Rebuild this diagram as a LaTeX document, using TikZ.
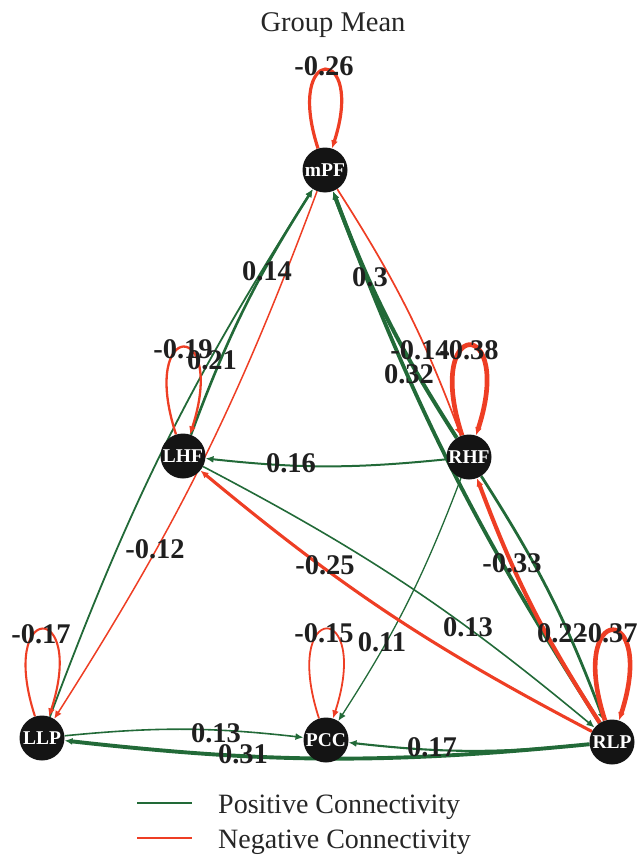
\documentclass[tikz,border=0pt]{standalone}
\usepackage{fontspec}
\setmainfont{Liberation Serif}
\usetikzlibrary{arrows.meta,backgrounds}
\definecolor{posc}{RGB}{34,106,56}
\definecolor{negc}{RGB}{238,62,36}
\begin{document}
\begin{tikzpicture}[x=1pt,y=1pt,
  roi/.style={circle,fill=black!92,minimum size=45pt,inner sep=0pt,text=white,font=\fontsize{19.5}{19.5}\selectfont\bfseries},
  wlab/.style={font=\fontsize{28.5}{28.5}\selectfont\bfseries,inner sep=0pt,text=black!88},
  tip/.style={-{Latex[length=8pt,width=7pt]}},
  wedge/.style={tip,bend left=6},
  posedge/.style={wedge,draw=posc},
  negedge/.style={wedge,draw=negc},
  selfloop/.style={tip,draw=negc,out=108,in=72},
  legtext/.style={font=\fontsize{28}{28}\selectfont,inner sep=0pt,anchor=base west,text=black!85}
]
\useasboundingbox (0,0) rectangle (642,-856);

% nodes
\node[roi] (mPF) at (325,-170) {mPF};
\node[roi] (LHF) at (183,-456) {LHF};
\node[roi] (RHF) at (469,-457) {RHF};
\node[roi] (LLP) at (42,-738) {LLP};
\node[roi] (PCC) at (326,-740) {PCC};
\node[roi] (RLP) at (612,-742) {RLP};

\begin{pgfonlayer}{background}
% positive edges
\draw[posedge,line width=1.8pt] (LLP) to (mPF);
\draw[posedge,line width=2.6pt] (LHF) to (mPF);
\draw[posedge,line width=4.0pt] (RHF) to (mPF);
\draw[posedge,line width=3.8pt] (RLP) to (mPF);
\draw[posedge,line width=2.0pt] (RHF) to (LHF);
\draw[posedge,line width=1.6pt] (LHF) to (RLP);
\draw[posedge,line width=2.8pt] (RHF) to (RLP);
\draw[posedge,line width=1.3pt] (RHF) to (PCC);
\draw[posedge,line width=1.6pt] (LLP) to (PCC);
\draw[posedge,line width=2.1pt] (RLP) to (PCC);
\draw[posedge,line width=3.9pt] (RLP) to (LLP);
% negative edges
\draw[negedge,line width=1.5pt] (mPF) to (LLP);
\draw[negedge,line width=1.7pt] (mPF) to (RHF);
\draw[negedge,line width=4.1pt] (RLP) to (RHF);
\draw[negedge,line width=3.1pt] (RLP) to (LHF);
% self loops
\draw[selfloop,line width=3.2pt,min distance=110pt] (mPF) to (mPF);
\draw[selfloop,line width=2.3pt,min distance=122pt] (LHF) to (LHF);
\draw[selfloop,line width=4.7pt,min distance=126pt] (RHF) to (RHF);
\draw[selfloop,line width=2.1pt,min distance=122pt] (LLP) to (LLP);
\draw[selfloop,line width=1.8pt,min distance=125pt] (PCC) to (PCC);
\draw[selfloop,line width=4.6pt,min distance=126pt] (RLP) to (RLP);
\end{pgfonlayer}

% weight labels
\node[wlab] (l1) at (324,-66) {-0.26};
\node[wlab] (l2) at (267,-271) {0.14};
\node[wlab] (l3) at (370,-277) {0.3};
\node[wlab] (l4) at (183,-349) {-0.19};
\node[wlab] (l5) at (212,-360) {0.21};
\node[wlab] (l6) at (420,-350) {-0.14};
\node[wlab] (l7) at (469,-350) {-0.38};
\node[wlab] (l8) at (409,-374) {0.32};
\node[wlab] (l9) at (291,-463) {0.16};
\node[wlab] (l10) at (155,-549) {-0.12};
\node[wlab] (l11) at (325,-565) {-0.25};
\node[wlab] (l12) at (512,-563) {-0.33};
\node[wlab] (l13) at (468,-627) {0.13};
\node[wlab] (l14) at (562,-633) {0.22};
\node[wlab] (l15) at (608,-633) {-0.37};
\node[wlab] (l16) at (41,-634) {-0.17};
\node[wlab] (l17) at (324,-633) {-0.15};
\node[wlab] (l18) at (382,-642) {0.11};
\node[wlab] (l19) at (216,-733) {0.13};
\node[wlab] (l20) at (243,-754) {0.31};
\node[wlab] (l21) at (432,-747) {0.17};

% title
\node[font=\fontsize{28.5}{28.5}\selectfont,inner sep=0pt,anchor=base,text=black!85] (title) at (333,-32) {Group Mean};

% legend
\coordinate (gA) at (137,-803);
\coordinate (gB) at (192,-803);
\coordinate (rA) at (137,-838);
\coordinate (rB) at (192,-838);
\draw[posc,line width=2.5pt] (gA) -- (gB);
\draw[negc,line width=2.5pt] (rA) -- (rB);
\node[legtext] (legpos) at (218,-813) {Positive Connectivity};
\node[legtext] (legneg) at (218,-848) {Negative Connectivity};
\end{tikzpicture}
\end{document}
